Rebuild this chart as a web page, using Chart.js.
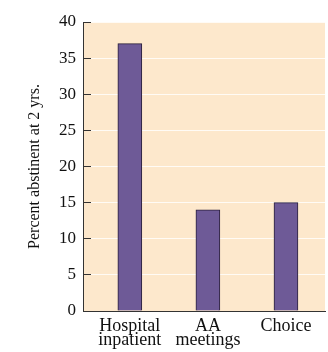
<!DOCTYPE html>
<html>
<head>
<meta charset="utf-8">
<script src="https://cdn.jsdelivr.net/npm/chart.js@4/dist/chart.umd.min.js"></script>
<style>
  html, body { margin: 0; padding: 0; background: #fff; }
  #wrap { width: 328px; height: 352px; }
</style>
</head>
<body>
<div id="wrap"><canvas id="grafico"></canvas></div>
<script>
// dados do gráfico
var categorias = [["Hospital", "inpatient"], ["AA", "meetings"], "Choice"];
var percentuais = [37, 14, 15];
var posicoes = [0, 1, 2];

// fundo da área do gráfico
var fundoArea = {
    id: 'fundoArea',
    beforeDraw: function (chart) {
        var a = chart.chartArea, ctx = chart.ctx;
        ctx.save();
        ctx.fillStyle = '#fde8cc';
        ctx.fillRect(a.left, a.top, a.right - a.left, a.bottom - a.top);
        ctx.restore();
    }
};

var ctx = document.getElementById('grafico').getContext('2d');
var grafico = new Chart(ctx, {
    type: 'bar',
    data: {
        datasets: [{
            data: posicoes.map(function (p, i) { return { x: p, y: percentuais[i] }; }),
            backgroundColor: '#6e5a97',
            borderColor: '#2a1f3a',
            borderWidth: 1,
            borderSkipped: 'bottom',
            barThickness: 24
        }]
    },
    options: {
        responsive: true,
        maintainAspectRatio: false,
        animation: false,
        layout: { padding: { top: 22, right: 3, left: 0, bottom: 0 } },
        plugins: {
            legend: { display: false },
            tooltip: { enabled: false }
        },
        scales: {
            x: {
                type: 'linear',
                offset: false,
                min: -0.6,
                max: 2.5,
                afterBuildTicks: function (scale) {
                    scale.ticks = posicoes.map(function (p) { return { value: p }; });
                },
                afterFit: function (scale) { scale.height = 41; },
                grid: { display: false },
                border: { color: '#333', width: 1 },
                ticks: {
                    color: '#111',
                    padding: 0,
                    maxRotation: 0,
                    autoSkip: false,
                    font: { family: 'Liberation Serif', size: 18, lineHeight: 0.8 },
                    callback: function (v) { return categorias[posicoes.indexOf(v)]; }
                }
            },
            y: {
                min: 0,
                max: 40,
                afterFit: function (scale) {
                    scale.width = 83;
                    scale.paddingTop = 0;
                    scale.paddingBottom = 0;
                },
                grid: {
                    color: 'rgba(255,255,255,0.8)',
                    tickColor: '#333',
                    tickLength: -8,
                    lineWidth: 1
                },
                border: { color: '#333', width: 1 },
                ticks: {
                    stepSize: 5,
                    color: '#111',
                    padding: 15,
                    font: { family: 'Liberation Serif', size: 17 }
                },
                title: {
                    display: true,
                    text: 'Percent abstinent at 2 yrs.',
                    color: '#111',
                    padding: { top: 25, bottom: 0 },
                    font: { family: 'Liberation Serif', size: 16 }
                }
            }
        }
    },
    plugins: [fundoArea]
});
</script>
</body>
</html>
